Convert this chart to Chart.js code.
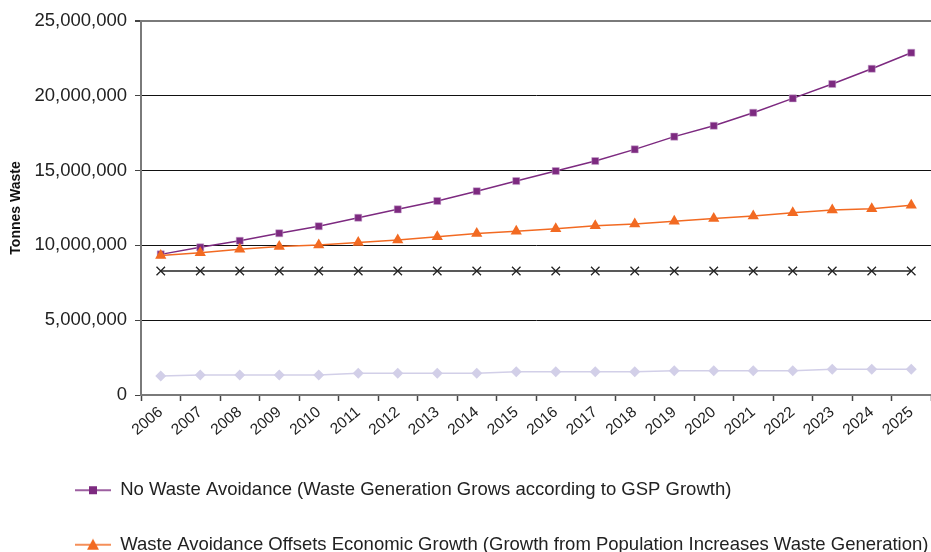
<!DOCTYPE html>
<html>
<head>
<meta charset="utf-8">
<script src="https://cdn.jsdelivr.net/npm/chart.js@4.4.1/dist/chart.umd.min.js"></script>
<style>
  html, body { margin: 0; padding: 0; background: #fff; }
  #wrap { width: 931px; height: 552px; }
</style>
</head>
<body>
<div id="wrap"><canvas id="waste-chart"></canvas></div>
<script>
const years = ['2006','2007','2008','2009','2010','2011','2012','2013','2014','2015',
               '2016','2017','2018','2019','2020','2021','2022','2023','2024','2025'];

const noAvoidance = [9400000, 9870000, 10310000, 10810000, 11280000, 11850000, 12410000, 12970000, 13620000, 14300000,
                     14970000, 15640000, 16420000, 17270000, 18000000, 18870000, 19830000, 20790000, 21810000, 22880000];

const avoidOffsets = [9330000, 9510000, 9740000, 9920000, 10030000, 10200000, 10360000, 10580000, 10800000, 10940000,
                      11120000, 11320000, 11430000, 11610000, 11790000, 11970000, 12190000, 12370000, 12450000, 12680000];

const flatLine = [8290000, 8290000, 8290000, 8290000, 8290000, 8290000, 8290000, 8290000, 8290000, 8290000,
                  8290000, 8290000, 8290000, 8290000, 8290000, 8290000, 8290000, 8290000, 8290000, 8290000];

const lowLine = [1270000, 1340000, 1340000, 1340000, 1340000, 1450000, 1450000, 1450000, 1450000, 1550000,
                 1560000, 1560000, 1550000, 1620000, 1620000, 1620000, 1620000, 1720000, 1720000, 1720000];

const yTicks = [0, 5000000, 10000000, 15000000, 20000000, 25000000];

const PURPLE = '#7d2a80';
const ORANGE = '#f26a22';
const LAVENDER = '#d2cfe8';
const BLACK = '#222222';

// legend swatch: line with the marker in the middle (Excel style)
function swatch(color, shape) {
  const c = document.createElement('canvas');
  c.width = 75; c.height = 14;
  const g = c.getContext('2d');
  g.strokeStyle = color; g.lineWidth = 1.5;
  g.beginPath(); g.moveTo(39, 7); g.lineTo(75, 7); g.stroke();
  g.fillStyle = color;
  if (shape === 'rect') {
    g.fillRect(53, 3, 8, 8);
  } else {
    g.beginPath(); g.moveTo(57, 1); g.lineTo(63, 12); g.lineTo(51, 12); g.closePath(); g.fill();
  }
  return c;
}
const swatches = [swatch(PURPLE, 'rect'), swatch(ORANGE, 'tri')];

new Chart(document.getElementById('waste-chart'), {
  type: 'line',
  data: {
    labels: years,
    datasets: [
      {
        label: 'No Waste Avoidance (Waste Generation Grows according to GSP Growth)',
        data: noAvoidance,
        borderColor: PURPLE, backgroundColor: PURPLE,
        borderWidth: 1.5, pointStyle: 'rect', pointRadius: 5,
        pointBorderColor: '#c9a6cf', pointBorderWidth: 0.5,
        order: 1
      },
      {
        label: 'Waste Avoidance Offsets Economic Growth (Growth from Population Increases Waste Generation)',
        data: avoidOffsets,
        borderColor: ORANGE, backgroundColor: ORANGE,
        borderWidth: 1.5, pointStyle: 'triangle', pointRadius: 6.5,
        pointBorderWidth: 0,
        order: 0
      },
      {
        label: 'Series 3',
        data: flatLine,
        borderColor: BLACK, backgroundColor: BLACK,
        borderWidth: 1.5, pointStyle: 'crossRot', pointRadius: 6,
        pointBorderWidth: 1.3,
        order: 2
      },
      {
        label: 'Series 4',
        data: lowLine,
        borderColor: LAVENDER, backgroundColor: LAVENDER,
        borderWidth: 1.5, pointStyle: 'rectRot', pointRadius: 5.5,
        pointBorderWidth: 0,
        order: 3
      }
    ]
  },
  options: {
    responsive: true,
    maintainAspectRatio: false,
    animation: false,
    layout: { autoPadding: false, padding: { top: 21, right: 0, left: 0, bottom: 0 } },
    plugins: {
      tooltip: { enabled: false },
      legend: {
        position: 'bottom',
        align: 'start',
        maxHeight: 107,
        labels: {
          usePointStyle: true,
          pointStyleWidth: 75,
          padding: 36,
          color: '#222',
          font: { family: 'Liberation Sans, Arial', size: 18.5 },
          generateLabels: function (chart) {
            const items = Chart.defaults.plugins.legend.labels.generateLabels(chart)
              .filter(it => it.datasetIndex < 2)
              .sort((a, b) => a.datasetIndex - b.datasetIndex);
            items.forEach(it => { it.pointStyle = swatches[it.datasetIndex]; });
            return items;
          }
        }
      }
    },
    scales: {
      x: {
        offset: true,
        afterFit: function (scale) {
          scale.height = 50;
          scale.paddingRight = 0;
          scale.paddingLeft = 0;
        },
        grid: {
          offset: true,
          drawOnChartArea: false,
          drawTicks: true,
          tickLength: 6,
          tickColor: '#444',
          tickWidth: 1.5
        },
        border: { color: '#7a7a7a', width: 2 },
        ticks: {
          minRotation: 40, maxRotation: 40,
          autoSkip: false,
          padding: 2,
          color: '#222',
          font: { family: 'Liberation Sans, Arial', size: 15.5 }
        }
      },
      y: {
        min: 0, max: 25000000,
        afterFit: function (scale) { scale.width = 141; },
        afterBuildTicks: function (scale) { scale.ticks = yTicks.map(v => ({ value: v })); },
        grid: {
          color: ctx => (ctx.tick && ctx.tick.value === 25000000) ? '#7a7a7a' : '#111',
          lineWidth: ctx => (ctx.tick && ctx.tick.value === 25000000) ? 2 : 1,
          tickLength: 6,
          tickColor: '#444'
        },
        border: { color: '#7a7a7a', width: 2 },
        ticks: {
          padding: 8,
          color: '#222',
          font: { family: 'Liberation Sans, Arial', size: 18.5 },
          callback: v => v.toLocaleString('en-US')
        },
        title: {
          display: true,
          text: 'Tonnes Waste',
          color: '#111',
          padding: { top: 8, bottom: 0 },
          font: { family: 'Liberation Sans, Arial', size: 14, weight: 'bold' }
        }
      }
    }
  }
});
</script>
</body>
</html>
